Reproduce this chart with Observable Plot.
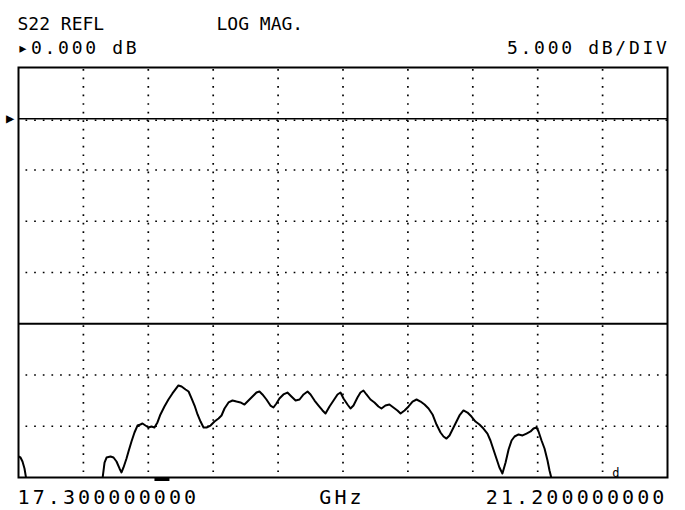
<!DOCTYPE html>
<html><head><meta charset="utf-8">
<script src="https://cdn.jsdelivr.net/npm/d3@7"></script>
<script src="https://cdn.jsdelivr.net/npm/@observablehq/plot@0.6"></script>
<style>
html,body{margin:0;padding:0;background:#fff;}
#chart svg text{font-family:"DejaVu Sans Mono",monospace;}
#chart g[aria-description="hdr1"] text{letter-spacing:0px;}
#chart g[aria-description="hdr2"] text{letter-spacing:2.7px;}
#chart g[aria-description="ftr"] text{letter-spacing:3.1px;}
</style></head><body><div id="chart"></div>
<script>
// S22 sweep trace (GHz, dB); NaN = trace off-screen below -35 dB
const freqGHz = [17.300,17.312,17.324,17.336,17.348,17.560,
17.805,17.817,17.829,17.853,17.871,17.889,17.907,17.919,17.931,17.949,17.961,17.979,17.997,18.015,
18.033,18.045,18.063,18.081,18.099,18.117,18.135,18.153,18.177,18.201,18.225,18.243,18.261,18.280,
18.304,18.322,18.340,18.358,18.376,18.394,18.412,18.430,18.454,18.478,18.502,18.520,18.538,18.562,
18.586,18.610,18.634,18.658,18.682,18.706,18.730,18.748,18.766,18.790,18.814,18.832,18.850,18.868,
18.892,18.916,18.940,18.965,18.989,19.013,19.037,19.055,19.079,19.103,19.127,19.145,19.169,19.193,
19.217,19.235,19.253,19.277,19.295,19.313,19.337,19.355,19.373,19.391,19.415,19.439,19.463,19.481,
19.505,19.529,19.553,19.577,19.596,19.620,19.644,19.668,19.692,19.716,19.740,19.764,19.788,19.812,
19.836,19.854,19.872,19.890,19.908,19.926,19.950,19.974,19.998,20.022,20.046,20.070,20.094,20.118,
20.136,20.154,20.172,20.190,20.208,20.227,20.245,20.263,20.281,20.305,20.329,20.353,20.377,20.395,
20.413,20.425,20.443,20.461,20.479,20.491,20.503];
const s22dB = [-32.95,-33.05,-33.44,-34.12,-35.29,NaN,
-35.10,-33.54,-33.05,-32.95,-33.05,-33.44,-34.12,-34.51,-34.02,-33.15,-32.46,-31.49,-30.61,-29.93,
-29.83,-29.73,-29.93,-30.12,-30.02,-30.12,-29.63,-28.85,-28.07,-27.39,-26.80,-26.41,-26.02,-26.12,
-26.41,-26.61,-27.29,-27.98,-28.85,-29.54,-30.12,-30.12,-29.93,-29.54,-29.24,-28.95,-28.27,-27.68,
-27.49,-27.59,-27.68,-27.88,-27.49,-27.10,-26.71,-26.61,-26.90,-27.39,-27.98,-28.17,-27.78,-27.29,
-26.90,-26.71,-27.10,-27.49,-27.39,-26.90,-26.61,-26.90,-27.49,-27.98,-28.46,-28.76,-28.07,-27.49,
-26.90,-26.71,-27.29,-27.88,-28.27,-27.98,-27.20,-26.71,-26.51,-26.90,-27.39,-27.68,-28.07,-28.27,
-27.98,-27.88,-28.17,-28.46,-28.76,-28.46,-28.07,-27.59,-27.39,-27.59,-27.88,-28.27,-28.85,-29.83,
-30.61,-31.00,-31.20,-30.90,-30.32,-29.73,-28.95,-28.46,-28.66,-29.05,-29.54,-29.83,-30.22,-30.71,
-31.39,-32.27,-33.15,-34.02,-34.61,-33.54,-32.27,-31.39,-31.00,-30.80,-30.90,-30.71,-30.51,-30.22,
-30.12,-30.51,-31.39,-32.17,-33.34,-34.32,-35.10];

const xDomainGHz = [17.3, 21.2];
const yDomainDB = [-35, 5];
const xGridGHz = [17.69, 18.08, 18.47, 18.86, 19.25, 19.64, 20.03, 20.42, 20.81];
const yGridDB = [-30, -25, -15, -10, -5];
const refLevelDB = [0];
const limitDB = [-20];
const markerBarGHz = [18.12, 18.21];
const markerSymbolGHz = [20.89];
const headerRow1 = ["S22 REFL", "LOG MAG."];
const headerRow2 = ["\u25B80.000 dB", "5.000 dB/DIV"];
const startLabel = ["17.300000000"];
const stopLabel = ["21.200000000"];
const unitLabel = ["GHz"];

const trace = freqGHz.map((f, i) => ({f, db: s22dB[i]}));
const ink = "#000";

const chart = Plot.plot({
  width: 685, height: 510,
  marginTop: 67, marginLeft: 18, marginRight: 18, marginBottom: 33,
  x: {domain: xDomainGHz, axis: null},
  y: {domain: yDomainDB, axis: null},
  style: {background: "#fff", color: ink},
  marks: [
    Plot.ruleX(xGridGHz, {x: d => d, stroke: ink, strokeWidth: 1.7, strokeDasharray: "1.7 6.84", strokeDashoffset: -2}),
    Plot.ruleY(yGridDB, {y: d => d, stroke: ink, strokeWidth: 1.7, strokeDasharray: "1.7 6.95", strokeDashoffset: -7.5}),
    Plot.ruleY(refLevelDB, {y: d => d, stroke: ink, strokeWidth: 1.7, strokeDasharray: "1.7 6.95", strokeDashoffset: -7.5, dy: 1.5}),
    Plot.ruleY(refLevelDB, {y: d => d, stroke: ink, strokeWidth: 1.5}),
    Plot.ruleY(limitDB, {y: d => d, stroke: ink, strokeWidth: 2}),
    Plot.line(trace, {x: "f", y: "db", stroke: ink, strokeWidth: 2, clip: true}),
    Plot.frame({stroke: ink, strokeWidth: 2}),
    // reference level pointer at left
    Plot.text(refLevelDB, {y: d => d, frameAnchor: "left", text: () => "\u25B6", textAnchor: "end", dx: -4, fontSize: 14, fill: ink}),
    // marker indicators
    Plot.ruleY([yDomainDB[0]], {y: d => d, x1: markerBarGHz[0], x2: markerBarGHz[1], stroke: ink, strokeWidth: 3, dy: 2}),
    Plot.text(markerSymbolGHz, {x: d => d, frameAnchor: "bottom", text: () => "d", lineAnchor: "bottom", dy: -1, fontSize: 12, fill: ink}),
    // header
    Plot.text([headerRow1[0]], {frameAnchor: "top-left", text: d => d, textAnchor: "start", lineAnchor: "bottom", dx: -1, dy: -38, fontSize: 18, fill: ink, ariaDescription: "hdr1"}),
    Plot.text([headerRow1[1]], {frameAnchor: "top-left", text: d => d, textAnchor: "start", lineAnchor: "bottom", dx: 198, dy: -38, fontSize: 18, fill: ink, ariaDescription: "hdr1"}),
    Plot.text([headerRow2[0]], {frameAnchor: "top-left", text: d => d, textAnchor: "start", lineAnchor: "bottom", dx: -1, dy: -14, fontSize: 18, fill: ink, ariaDescription: "hdr2"}),
    Plot.text([headerRow2[1]], {frameAnchor: "top-right", text: d => d, textAnchor: "end", lineAnchor: "bottom", dx: 2, dy: -14, fontSize: 18, fill: ink, ariaDescription: "hdr2"}),
    // footer (start / stop frequency and unit)
    Plot.text(startLabel, {frameAnchor: "bottom-left", text: d => d, textAnchor: "start", lineAnchor: "bottom", dx: -1, dy: 26, fontSize: 20, fill: ink, ariaDescription: "ftr"}),
    Plot.text(unitLabel, {frameAnchor: "bottom", text: d => d, textAnchor: "middle", lineAnchor: "bottom", dx: -1, dy: 26, fontSize: 20, fill: ink, ariaDescription: "ftr"}),
    Plot.text(stopLabel, {frameAnchor: "bottom-right", text: d => d, textAnchor: "end", lineAnchor: "bottom", dx: 0, dy: 26, fontSize: 20, fill: ink, ariaDescription: "ftr"})
  ]
});
document.getElementById("chart").appendChild(chart);
</script>
</body></html>
